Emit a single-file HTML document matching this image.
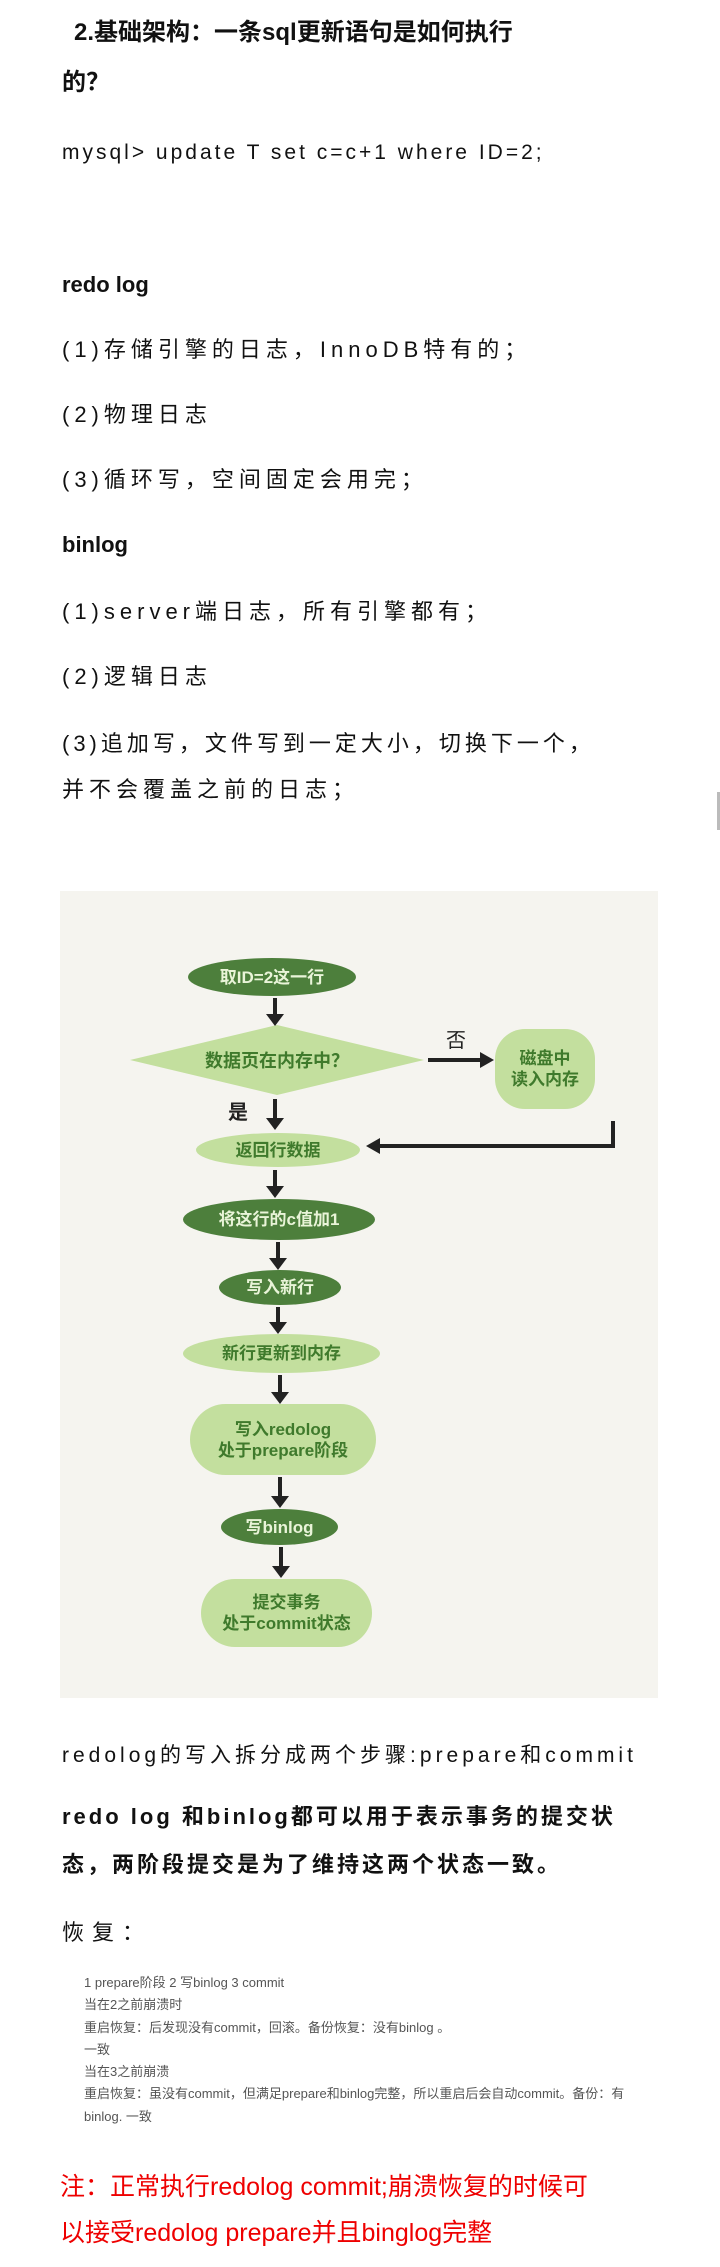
<!DOCTYPE html>
<html><head><meta charset="utf-8"><style>
body{margin:0;background:#fff;width:720px;height:2267px;position:relative;overflow:hidden;font-family:"Liberation Sans","Noto Sans CJK SC",sans-serif;color:#111}
.t{position:absolute;left:62px;white-space:nowrap;line-height:30px;height:30px;font-size:22px;letter-spacing:5px}
.b{font-weight:bold}
.s{position:absolute;left:84px;font-size:13px;color:#555;line-height:22px;height:22px;white-space:nowrap}
.r{position:absolute;left:60px;font-size:25px;color:#e00;line-height:34px;white-space:nowrap}
.n{position:absolute;display:flex;align-items:center;justify-content:center;text-align:center;border-radius:50%;font-weight:bold;font-size:17px;line-height:21px;color:#fff}
.d{background:#4d7f3c;color:#e9f4d8}
.l{background:#c3df9e;color:#3f7a2c}
</style></head><body>
<div class="t b" style="left:74px;top:18px;font-size:24px;letter-spacing:0">2.基础架构：一条sql更新语句是如何执行</div>
<div class="t b" style="top:68px;font-size:24px;letter-spacing:0">的？</div>
<div class="t" style="top:138px;font-size:21px;letter-spacing:3px">mysql&gt; update T set c=c+1 where ID=2;</div>
<div class="t b" style="top:270px;letter-spacing:0">redo log</div>
<div class="t" style="top:335px">(1)存储引擎的日志，InnoDB特有的；</div>
<div class="t" style="top:400px">(2)物理日志</div>
<div class="t" style="top:465px">(3)循环写，空间固定会用完；</div>
<div class="t b" style="top:530px;letter-spacing:0">binlog</div>
<div class="t" style="top:597px">(1)server端日志，所有引擎都有；</div>
<div class="t" style="top:662px">(2)逻辑日志</div>
<div class="t" style="top:729px;letter-spacing:4px">(3)追加写，文件写到一定大小，切换下一个，</div>
<div class="t" style="top:775px">并不会覆盖之前的日志；</div>
<div style="position:absolute;right:0;top:792px;width:3px;height:38px;background:#bbb"></div>

<div style="position:absolute;left:60px;top:891px;width:598px;height:807px;background:#f5f4ef"></div>
<svg style="position:absolute;left:0;top:0" width="720" height="2267">
<polygon points="130,1060 277,1025 424,1060 277,1095" fill="#c3df9e"/>
<g stroke="#222" stroke-width="4" fill="none">
<line x1="275" y1="998" x2="275" y2="1016"/>
<line x1="275" y1="1099" x2="275" y2="1120"/>
<line x1="275" y1="1170" x2="275" y2="1188"/>
<line x1="278" y1="1242" x2="278" y2="1260"/>
<line x1="278" y1="1307" x2="278" y2="1324"/>
<line x1="280" y1="1375" x2="280" y2="1394"/>
<line x1="280" y1="1477" x2="280" y2="1498"/>
<line x1="281" y1="1547" x2="281" y2="1568"/>
<line x1="428" y1="1060" x2="482" y2="1060"/>
<polyline points="613,1121 613,1146 378,1146"/>
</g>
<g fill="#222">
<polygon points="266,1014 284,1014 275,1026"/>
<polygon points="266,1118 284,1118 275,1130"/>
<polygon points="266,1186 284,1186 275,1198"/>
<polygon points="269,1258 287,1258 278,1270"/>
<polygon points="269,1322 287,1322 278,1334"/>
<polygon points="271,1392 289,1392 280,1404"/>
<polygon points="271,1496 289,1496 280,1508"/>
<polygon points="272,1566 290,1566 281,1578"/>
<polygon points="480,1052 494,1060 480,1068"/>
<polygon points="380,1138 366,1146 380,1154"/>
</g>
<text x="446" y="1047" font-size="20" fill="#222" font-family="Noto Sans CJK SC,sans-serif">否</text>
<text x="228" y="1119" font-size="20" fill="#222" font-family="Noto Sans CJK SC,sans-serif" font-weight="bold">是</text>
<text x="277" y="1067" font-size="18" fill="#3f7a2c" text-anchor="middle" font-weight="bold" font-family="Noto Sans CJK SC,sans-serif">数据页在内存中？</text>
</svg>
<div class="n d" style="left:188px;top:958px;width:168px;height:38px">取ID=2这一行</div>
<div class="n l" style="left:495px;top:1029px;width:100px;height:80px;border-radius:30px">磁盘中<br>读入内存</div>
<div class="n l" style="left:196px;top:1133px;width:164px;height:34px">返回行数据</div>
<div class="n d" style="left:183px;top:1199px;width:192px;height:41px">将这行的c值加1</div>
<div class="n d" style="left:219px;top:1270px;width:122px;height:35px">写入新行</div>
<div class="n l" style="left:183px;top:1334px;width:197px;height:39px">新行更新到内存</div>
<div class="n l" style="left:190px;top:1404px;width:186px;height:71px;border-radius:36px">写入redolog<br>处于prepare阶段</div>
<div class="n d" style="left:221px;top:1509px;width:117px;height:36px">写binlog</div>
<div class="n l" style="left:201px;top:1579px;width:171px;height:68px;border-radius:34px">提交事务<br>处于commit状态</div>

<div class="t" style="top:1741px;font-size:21px;letter-spacing:4px">redolog的写入拆分成两个步骤:prepare和commit</div>
<div class="t b" style="top:1802px;letter-spacing:3px">redo log 和binlog都可以用于表示事务的提交状</div>
<div class="t b" style="top:1850px;letter-spacing:3px">态，两阶段提交是为了维持这两个状态一致。</div>
<div class="t" style="top:1918px;letter-spacing:8px">恢复：</div>
<div class="s" style="top:1972px">1 prepare阶段 2 写binlog 3 commit</div>
<div class="s" style="top:1994px">当在2之前崩溃时</div>
<div class="s" style="top:2017px">重启恢复：后发现没有commit，回滚。备份恢复：没有binlog 。</div>
<div class="s" style="top:2039px">一致</div>
<div class="s" style="top:2061px">当在3之前崩溃</div>
<div class="s" style="top:2083px">重启恢复：虽没有commit，但满足prepare和binlog完整，所以重启后会自动commit。备份：有</div>
<div class="s" style="top:2106px">binlog. 一致</div>
<div class="r" style="top:2170px">注：正常执行redolog commit;崩溃恢复的时候可</div>
<div class="r" style="top:2216px">以接受redolog prepare并且binglog完整</div>
</body></html>
